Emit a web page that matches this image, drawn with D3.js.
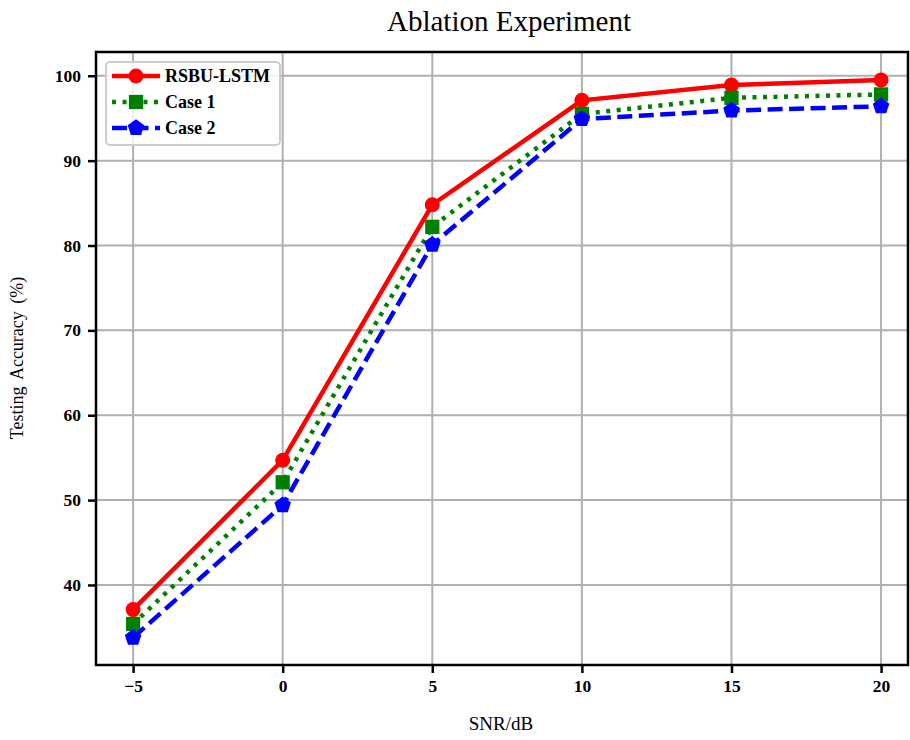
<!DOCTYPE html>
<html lang="en">
  <head>
    <meta charset="UTF-8" />
    <title>Ablation Experiment</title>
    <script src="https://d3js.org/d3.v7.min.js"></script>
    <style>
      body {
        margin: 0;
        background: white;
        font-family: "Liberation Serif", "DejaVu Serif", serif;
      }
      svg {
        display: block;
      }
    </style>
  </head>
  <body>
    <svg id="chart" width="910" height="740"></svg>
    <script>
      const snr = [-5, 0, 5, 10, 15, 20];
      const rsbuLstm = [37.1, 54.7, 84.8, 97.1, 98.9, 99.5];
      const case1 = [35.4, 52.1, 82.2, 95.5, 97.4, 97.8];
      const case2 = [33.8, 49.4, 80.1, 94.9, 95.9, 96.4];
      const yTicks = [40, 50, 60, 70, 80, 90, 100];

      const series = [
        { name: "RSBU-LSTM", values: rsbuLstm, color: "#ff0000", dash: null, marker: "circle" },
        { name: "Case 1", values: case1, color: "#008000", dash: "4,6.5", marker: "square" },
        { name: "Case 2", values: case2, color: "#0000ff", dash: "15,6.5", marker: "pentagon" },
      ];

      const svg = d3.select("#chart");
      const margin = { left: 96, right: 2, top: 52, bottom: 75 };
      const width = 910 - margin.left - margin.right;
      const height = 740 - margin.top - margin.bottom;

      const x = d3.scaleLinear().domain([-6.24, 20.9]).range([0, width]);
      const y = d3.scaleLinear().domain([30.57, 102.8]).range([height, 0]);

      const g = svg
        .append("g")
        .attr("transform", `translate(${margin.left},${margin.top})`);

      // grid
      g.append("g")
        .selectAll("line")
        .data(snr)
        .join("line")
        .attr("x1", (d) => x(d))
        .attr("x2", (d) => x(d))
        .attr("y1", 0)
        .attr("y2", height)
        .attr("stroke", "#b0b0b0")
        .attr("stroke-width", 2);
      g.append("g")
        .selectAll("line")
        .data(yTicks)
        .join("line")
        .attr("y1", (d) => y(d))
        .attr("y2", (d) => y(d))
        .attr("x1", 0)
        .attr("x2", width)
        .attr("stroke", "#b0b0b0")
        .attr("stroke-width", 2);

      // axes
      const xAxis = g
        .append("g")
        .attr("transform", `translate(0,${height})`)
        .call(
          d3.axisBottom(x).tickValues(snr).tickSize(8).tickPadding(7)
            .tickFormat((d) => (d < 0 ? "\u2212" + Math.abs(d) : d))
        );
      const yAxis = g
        .append("g")
        .call(d3.axisLeft(y).tickValues(yTicks).tickSize(8).tickPadding(7));

      [xAxis, yAxis].forEach((a) => {
        a.select(".domain").remove();
        a.selectAll(".tick line").attr("stroke", "#000").attr("stroke-width", 2.5);
        a.selectAll(".tick text")
          .attr("fill", "#000")
          .style("font-family", "'Liberation Serif', serif")
          .style("font-weight", "bold")
          .style("font-size", "17.5px");
      });

      // frame
      g.append("rect")
        .attr("width", width)
        .attr("height", height)
        .attr("fill", "none")
        .attr("stroke", "#000")
        .attr("stroke-width", 2.5);

      const line = d3
        .line()
        .x((d, i) => x(snr[i]))
        .y((d) => y(d));

      function drawMarker(sel, type, color, size) {
        if (type === "circle") {
          sel.append("circle").attr("r", size * 0.5).attr("fill", color);
        } else if (type === "square") {
          const s = size * 0.95;
          sel.append("rect").attr("x", -s / 2).attr("y", -s / 2)
            .attr("width", s).attr("height", s).attr("fill", color);
        } else {
          const r = size * 0.58;
          const pts = d3.range(5).map((k) => {
            const a = -Math.PI / 2 + (k * 2 * Math.PI) / 5;
            return [r * Math.cos(a), r * Math.sin(a)];
          });
          sel.append("polygon").attr("points", pts.map((p) => p.join(",")).join(" "))
            .attr("fill", color);
        }
      }

      series.forEach((s) => {
        g.append("path")
          .datum(s.values)
          .attr("d", line)
          .attr("fill", "none")
          .attr("stroke", s.color)
          .attr("stroke-width", 4.5)
          .attr("stroke-dasharray", s.dash);
        s.values.forEach((v, i) => {
          const m = g.append("g").attr("transform", `translate(${x(snr[i])},${y(v)})`);
          drawMarker(m, s.marker, s.color, 15);
        });
      });

      // legend
      const lg = svg.append("g").attr("transform", "translate(106,62)");
      lg.append("rect")
        .attr("width", 174)
        .attr("height", 83)
        .attr("rx", 4)
        .attr("fill", "white")
        .attr("fill-opacity", 0.8)
        .attr("stroke", "#cccccc")
        .attr("stroke-width", 2);
      series.forEach((s, i) => {
        const row = lg.append("g").attr("transform", `translate(0,${14 + i * 26})`);
        row.append("line")
          .attr("x1", 6).attr("x2", 54)
          .attr("stroke", s.color)
          .attr("stroke-width", 4.5)
          .attr("stroke-dasharray", s.dash);
        drawMarker(row.append("g").attr("transform", "translate(30,0)"), s.marker, s.color, 15);
        row.append("text")
          .attr("x", 59)
          .attr("y", 6)
          .style("font-weight", "bold")
          .style("font-size", "18px")
          .text(s.name);
      });

      // title and labels
      svg.append("text")
        .attr("x", 509)
        .attr("y", 31)
        .attr("text-anchor", "middle")
        .style("font-size", "29px")
        .text("Ablation Experiment");
      svg.append("text")
        .attr("x", 501)
        .attr("y", 730)
        .attr("text-anchor", "middle")
        .style("font-size", "19px")
        .text("SNR/dB");
      svg.append("text")
        .attr("transform", "translate(23,358) rotate(-90)")
        .attr("text-anchor", "middle")
        .style("font-size", "18px")
        .style("word-spacing", "3px")
        .text("Testing Accuracy (%)");
    </script>
  </body>
</html>
